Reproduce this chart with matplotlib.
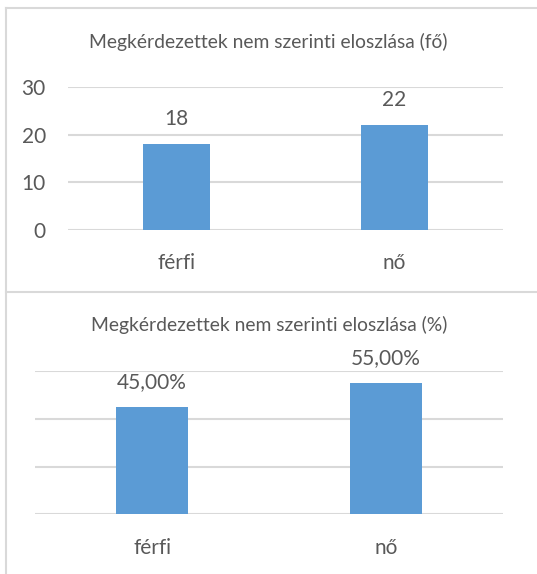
import matplotlib.pyplot as plt
from matplotlib.lines import Line2D

# Data
categories = ["férfi", "nő"]
counts = [18, 22]
percents = [45.0, 55.0]
count_labels = ["18", "22"]
percent_labels = ["45,00%", "55,00%"]

title_count = "Megkérdezettek nem szerinti eloszlása (fő)"
title_percent = "Megkérdezettek nem szerinti eloszlása (%)"

BAR = "#5B9BD5"
GRID = "#D9D9D9"
TEXT = "#595959"
BORDER = "#D9D9D9"

plt.rcParams["font.family"] = ["Lato", "DejaVu Sans"]

W, H = 537, 574
fig = plt.figure(figsize=(W / 100, H / 100), dpi=100)


def px_box(x0, y0, x1, y1):
    # pixel box (top-left origin) -> figure fraction rect
    return [x0 / W, 1 - y1 / H, (x1 - x0) / W, (y1 - y0) / H]


def style_axes(ax, ymax, yticks, show_ylabels):
    ax.set_xlim(-0.5, 1.5)
    ax.set_ylim(0, ymax)
    ax.set_yticks(yticks)
    ax.yaxis.grid(True, color=GRID, linewidth=1.5)
    ax.set_axisbelow(True)
    for s in ax.spines.values():
        s.set_visible(False)
    ax.tick_params(axis="both", length=0, colors=TEXT, labelsize=15)
    ax.tick_params(axis="x", pad=17)
    ax.tick_params(axis="y", pad=16)
    if not show_ylabels:
        ax.set_yticklabels([])


# ---------------------------
# Chart 1: counts
# ---------------------------
ax1 = fig.add_axes(px_box(68, 87, 503, 229.7))
xs = range(len(categories))
ax1.bar(xs, counts, width=0.31, color=BAR)
style_axes(ax1, 30, [0, 10, 20, 30], True)
ax1.set_xticks(list(xs))
ax1.set_xticklabels(categories)
for x, v, lab in zip(xs, counts, count_labels):
    ax1.annotate(lab, (x, v), xytext=(0, 18), textcoords="offset points",
                 ha="center", va="center", fontsize=15, color=TEXT)
fig.text(268 / W, 1 - 42 / H, title_count, ha="center", va="center",
         fontsize=13.9, color=TEXT)

# ---------------------------
# Chart 2: percents
# ---------------------------
ax2 = fig.add_axes(px_box(35, 371, 503, 514.3))
ax2.bar(xs, percents, width=0.31, color=BAR)
style_axes(ax2, 60, [0, 20, 40, 60], False)
ax2.set_xticks(list(xs))
ax2.set_xticklabels(categories)
for x, v, lab in zip(xs, percents, percent_labels):
    ax2.annotate(lab, (x, v), xytext=(0, 18), textcoords="offset points",
                 ha="center", va="center", fontsize=15, color=TEXT)
fig.text(269 / W, 1 - 325 / H, title_percent, ha="center", va="center",
         fontsize=13.9, color=TEXT)

# chart frames
def fig_line(x0, y0, x1, y1):
    fig.add_artist(Line2D([x0 / W, x1 / W], [1 - y0 / H, 1 - y1 / H],
                          color=BORDER, linewidth=1.5))

fig_line(6, 7.5, W, 7.5)
fig_line(6, 292, W, 292)
fig_line(6, 7.5, 6, H)

fig.savefig("out.png", dpi=100)
